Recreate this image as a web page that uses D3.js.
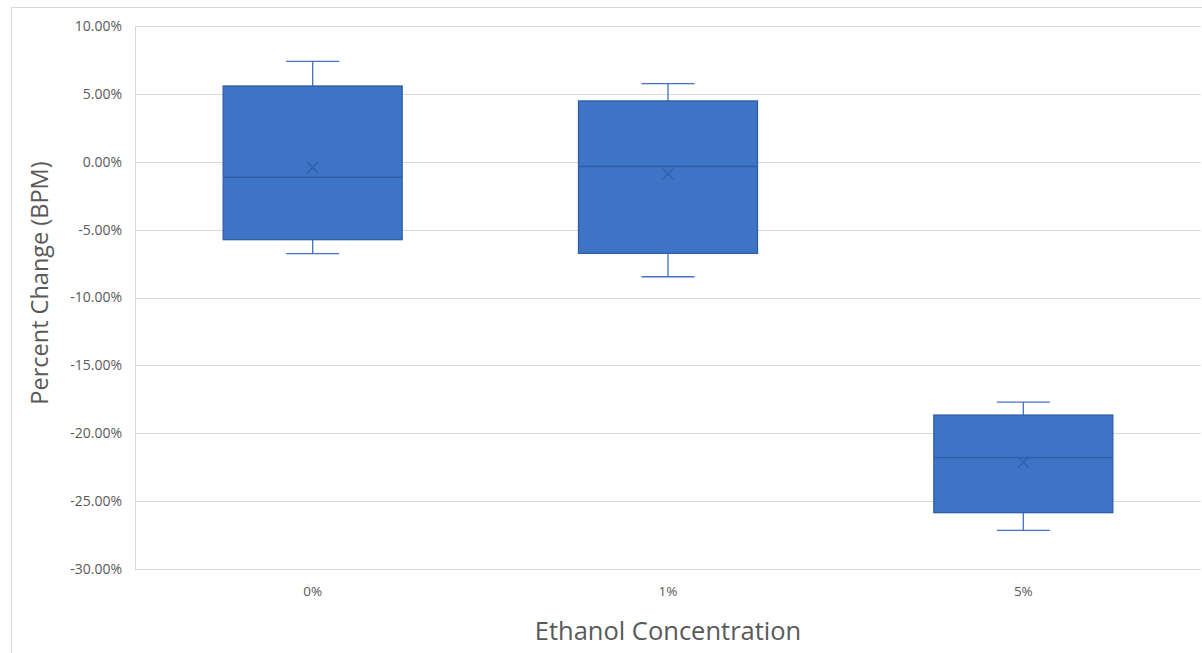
<!DOCTYPE html>
<html><head><meta charset="utf-8">
<script src="https://cdn.jsdelivr.net/npm/d3@7"></script>
<style>body{margin:0;background:#fff}</style>
</head><body>
<script>
const categories = ["0%", "1%", "5%"];
const whiskerHigh = [0.0739, 0.0576, -0.1770];
const q3 = [0.0558, 0.0448, -0.1866];
const median = [-0.0114, -0.0035, -0.2179];
const mean = [-0.0042, -0.0091, -0.2213];
const q1 = [-0.0574, -0.0675, -0.2585];
const whiskerLow = [-0.0677, -0.0847, -0.2716];
const yTicks = [0.10, 0.05, 0, -0.05, -0.10, -0.15, -0.20, -0.25, -0.30];

const W = 1202, H = 653;
const m = {left: 135, right: 1, top: 26, bottom: 84};
const svg = d3.select("body").append("svg").attr("width", W).attr("height", H);
const font = "'Open Sans', sans-serif";
const loc = d3.formatLocale({decimal: ".", thousands: ",", grouping: [3], currency: ["$", ""], minus: "-"});

svg.append("rect").attr("x", 11.5).attr("y", 7.5).attr("width", W + 10).attr("height", H + 10)
  .attr("fill", "none").attr("stroke", "#d9d9d9");

const x = d3.scaleBand().domain(categories).range([m.left, W - m.right]);
const y = d3.scaleLinear().domain([-0.30, 0.10]).range([H - m.bottom, m.top]);

const g = svg.append("g");
g.selectAll(".grid").data(yTicks).join("line")
  .attr("x1", m.left).attr("x2", W - m.right)
  .attr("y1", d => Math.round(y(d)) + 0.5).attr("y2", d => Math.round(y(d)) + 0.5)
  .attr("stroke", "#d9d9d9").attr("stroke-width", 1);
g.append("line").attr("x1", m.left + 0.5).attr("x2", m.left + 0.5)
  .attr("y1", m.top).attr("y2", y(-0.30)).attr("stroke", "#d9d9d9");

const yAxis = d3.axisLeft(y).tickValues(yTicks).tickFormat(loc.format(".2%")).tickSize(0).tickPadding(13);
const ya = svg.append("g").attr("transform", `translate(${m.left},0)`).call(yAxis);
ya.select(".domain").remove();
ya.selectAll("text").attr("fill", "#595959").style("font-family", font).style("font-size", "14px");

const xAxis = d3.axisBottom(x).tickSize(0).tickPadding(17);
const xa = svg.append("g").attr("transform", `translate(0,${y(-0.30)})`).call(xAxis);
xa.select(".domain").remove();
xa.selectAll("text").attr("fill", "#595959").style("font-family", font).style("font-size", "13.5px");

const boxW = 179, capW = 53;
const idx = d3.range(categories.length);
const bx = g.selectAll(".box").data(idx).join("g");
const cx = i => x(categories[i]) + x.bandwidth() / 2;
const lineC = "#4472c4";
bx.append("line").attr("x1", cx).attr("x2", cx).attr("y1", i => y(whiskerHigh[i])).attr("y2", i => y(q3[i])).attr("stroke", lineC).attr("stroke-width", 1.3);
bx.append("line").attr("x1", cx).attr("x2", cx).attr("y1", i => y(q1[i])).attr("y2", i => y(whiskerLow[i])).attr("stroke", lineC).attr("stroke-width", 1.3);
bx.append("line").attr("x1", i => cx(i) - capW / 2).attr("x2", i => cx(i) + capW / 2).attr("y1", i => y(whiskerHigh[i])).attr("y2", i => y(whiskerHigh[i])).attr("stroke", lineC).attr("stroke-width", 1.3);
bx.append("line").attr("x1", i => cx(i) - capW / 2).attr("x2", i => cx(i) + capW / 2).attr("y1", i => y(whiskerLow[i])).attr("y2", i => y(whiskerLow[i])).attr("stroke", lineC).attr("stroke-width", 1.3);
bx.append("rect").attr("x", i => cx(i) - boxW / 2).attr("width", boxW)
  .attr("y", i => y(q3[i])).attr("height", i => y(q1[i]) - y(q3[i]))
  .attr("fill", "#3e74c6").attr("stroke", "#2f5ea6").attr("stroke-width", 1.3);
bx.append("line").attr("x1", i => cx(i) - boxW / 2).attr("x2", i => cx(i) + boxW / 2)
  .attr("y1", i => y(median[i])).attr("y2", i => y(median[i])).attr("stroke", "#2f5ea6").attr("stroke-width", 1.3);
const s = 5.5;
bx.append("path").attr("d", i => { const X = cx(i), Y = y(mean[i]); return `M${X - s},${Y - s}L${X + s},${Y + s}M${X - s},${Y + s}L${X + s},${Y - s}`; })
  .attr("stroke", "#2f5ea6").attr("stroke-width", 1.3).attr("fill", "none");

svg.append("text").attr("transform", `translate(48,283) rotate(-90)`)
  .attr("text-anchor", "middle").attr("fill", "#595959").style("font-family", font).style("font-size", "23.5px")
  .text("Percent Change (BPM)");
svg.append("text").attr("x", (m.left + W - m.right) / 2).attr("y", 640)
  .attr("text-anchor", "middle").attr("fill", "#595959").style("font-family", font).style("font-size", "25.5px")
  .text("Ethanol Concentration");
</script>
</body></html>
